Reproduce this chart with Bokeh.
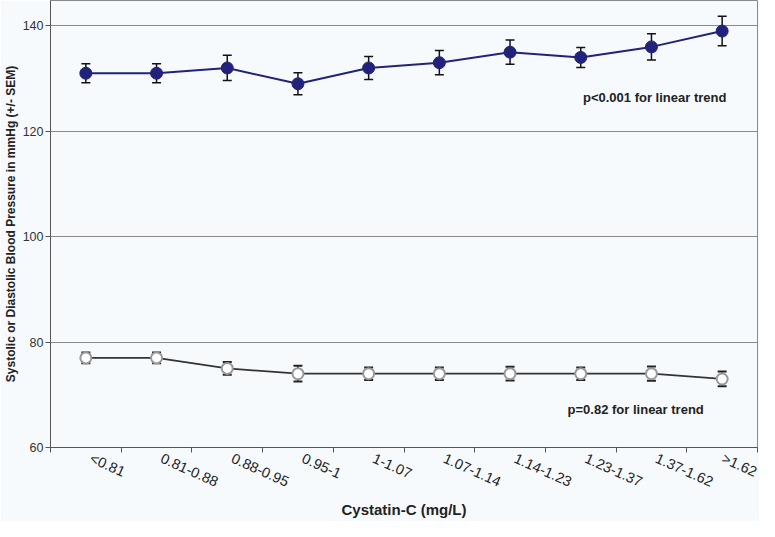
from bokeh.plotting import figure
from bokeh.models import (ColumnDataSource, Whisker, TeeHead, FixedTicker,
                          Label, Range1d)
from bokeh.embed import file_html
from bokeh.resources import INLINE

categories = ["<0.81", "0.81-0.88", "0.88-0.95", "0.95-1", "1-1.07",
              "1.07-1.14", "1.14-1.23", "1.23-1.37", "1.37-1.62", ">1.62"]
systolic = [131, 131, 132, 129, 132, 133, 135, 134, 136, 139]
systolic_sem = [1.8, 1.8, 2.4, 2.1, 2.2, 2.3, 2.3, 1.9, 2.5, 2.8]
diastolic = [77, 77, 75, 74, 74, 74, 74, 74, 74, 73]
diastolic_sem = [1.0, 1.0, 1.2, 1.5, 1.2, 1.2, 1.3, 1.2, 1.35, 1.4]
y_ticks = [60, 80, 100, 120, 140]

n = len(categories)
xs = [i + 0.5 for i in range(n)]
# rotated labels start slightly right of the category centre
label_pos = [x + 0.07 for x in xs]

bg = "#f7fafd"
FONT = "Liberation Sans"

p = figure(width=759, height=521, output_backend="svg", toolbar_location=None,
           x_range=Range1d(0, n), y_range=Range1d(60, 144.8),
           min_border_left=49, min_border_right=2, min_border_top=0,
           min_border_bottom=74)
p.background_fill_color = bg
p.border_fill_color = bg
p.outline_line_color = "#8a8a8a"
p.outline_line_width = 1

# grid
p.xgrid.visible = False
p.ygrid.ticker = FixedTicker(ticks=y_ticks)
p.ygrid.grid_line_color = "#8a8a8a"
p.ygrid.grid_line_width = 1

# y axis
p.yaxis.ticker = FixedTicker(ticks=y_ticks)
p.yaxis.axis_label = "Systolic or Diastolic Blood Pressure in mmHg (+/- SEM)"
p.yaxis.axis_label_text_font = FONT
p.yaxis.axis_label_text_font_style = "bold"
p.yaxis.axis_label_text_font_size = "12px"
p.yaxis.axis_label_text_color = "#222222"
p.yaxis.axis_label_standoff = 2
p.yaxis.major_label_text_font = FONT
p.yaxis.major_label_text_font_size = "12.5px"
p.yaxis.major_label_text_color = "#333333"
p.yaxis.major_label_standoff = 2
p.yaxis.axis_line_color = "#555555"
p.yaxis.major_tick_line_color = "#555555"
p.yaxis.major_tick_in = 0
p.yaxis.major_tick_out = 5
p.yaxis.minor_tick_line_color = None

# x axis: labels near category centres, ticks at boundaries (minor ticks)
p.xaxis.ticker = FixedTicker(ticks=label_pos, minor_ticks=list(range(n + 1)))
p.xaxis.major_label_overrides = {x: c for x, c in zip(label_pos, categories)}
p.xaxis.major_label_orientation = -0.42
p.xaxis.major_label_text_font = FONT
p.xaxis.major_label_text_font_size = "14.5px"
p.xaxis.major_label_text_color = "#222222"
p.xaxis.major_label_standoff = 5
p.xaxis.major_tick_line_color = None
p.xaxis.major_tick_out = 5
p.xaxis.minor_tick_line_color = "#555555"
p.xaxis.minor_tick_in = 0
p.xaxis.minor_tick_out = 5
p.xaxis.axis_line_color = "#555555"
p.xaxis.axis_label = "Cystatin-C (mg/L)"
p.xaxis.axis_label_text_font = FONT
p.xaxis.axis_label_text_font_style = "bold"
p.xaxis.axis_label_text_font_size = "15px"
p.xaxis.axis_label_text_color = "#222222"
p.xaxis.axis_label_standoff = 1

navy = "#22227a"

src_s = ColumnDataSource(dict(
    x=xs, y=systolic,
    upper=[v + e for v, e in zip(systolic, systolic_sem)],
    lower=[v - e for v, e in zip(systolic, systolic_sem)]))
src_d = ColumnDataSource(dict(
    x=xs, y=diastolic,
    upper=[v + e for v, e in zip(diastolic, diastolic_sem)],
    lower=[v - e for v, e in zip(diastolic, diastolic_sem)]))

# systolic
p.line("x", "y", source=src_s, line_color=navy, line_width=2)
ws = Whisker(source=src_s, base="x", upper="upper", lower="lower",
             line_color="#111111", line_width=1.5,
             upper_head=TeeHead(size=9, line_color="#111111", line_width=1.5),
             lower_head=TeeHead(size=9, line_color="#111111", line_width=1.5))
p.add_layout(ws)
p.scatter("x", "y", source=src_s, size=12, fill_color=navy,
          line_color=navy, line_width=1)

# diastolic
p.line("x", "y", source=src_d, line_color="#333333", line_width=1.8)
wd = Whisker(source=src_d, base="x", upper="upper", lower="lower",
             line_color="#222222", line_width=1.5,
             upper_head=TeeHead(size=9, line_color="#222222", line_width=2),
             lower_head=TeeHead(size=9, line_color="#222222", line_width=2))
p.add_layout(wd)
p.scatter("x", "y", source=src_d, size=11, fill_color="white",
          line_color="#999999", line_width=2)

p.add_layout(Label(x=9.56, y=126.4, text="p<0.001 for linear trend",
                   text_align="right", text_baseline="middle",
                   text_font=FONT, text_font_style="bold",
                   text_font_size="13px", text_color="#222222"))
p.add_layout(Label(x=9.24, y=67.2, text="p=0.82 for linear trend",
                   text_align="right", text_baseline="middle",
                   text_font=FONT, text_font_style="bold",
                   text_font_size="13px", text_color="#222222"))

open("out.html", "w").write(file_html(p, INLINE))
